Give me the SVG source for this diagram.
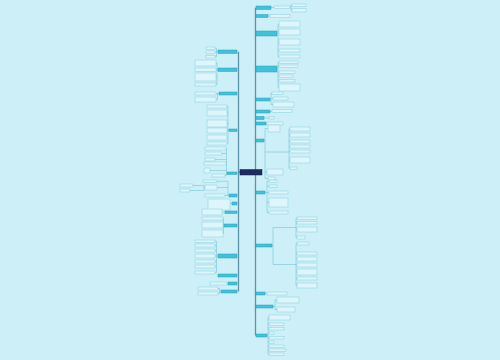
<svg xmlns="http://www.w3.org/2000/svg" width="500" height="360" viewBox="0 0 500 360">
<style>
.bg{fill:#cdf0f8}
.l1{fill:#40c2db;stroke:#2a9fba;stroke-width:0.5}
.l2{fill:#def6fb;stroke:#7fcadc;stroke-width:0.45}
.u{fill:none;stroke:#6fbccf;stroke-width:0.55}
.root{fill:#1c2b60;stroke:#0f1a44;stroke-width:0.5}
.c{fill:none;stroke:#72bfd2;stroke-width:0.55}
.sp{fill:none;stroke:#5f93a8;stroke-width:1.3}
</style>
<rect class="bg" x="0" y="0" width="500" height="360"/>
<g id="connectors">
<path class="sp" d="M255.5,7.75V335.5"/>
<path class="sp" d="M238.5,51.75V291.5M238.5,172H240"/>
<path class="c" d="M271,7.5H274M290,7.25H291M292,5.25H291V10.25H292"/>
<path class="c" d="M268,16H270"/>
<path class="c" d="M277,33.5H278M279,24H278V56.5H279M278,32H279M278,42H279M278,50.5H279"/>
<path class="c" d="M277,69H278M279,62.25H278V87.5H279M278,66.25H279M278,72.25H279M278,76.25H279M278,80.75H279"/>
<path class="c" d="M270,99.5H271M272,93.25H271V104.5H273M271,98.5H273"/>
<path class="c" d="M270,111.5H272"/>
<path class="c" d="M264,118H269"/>
<path class="c" d="M266,123.5H267"/>
<path class="c" d="M264,140.5H265M268,128.5H265V178.5H268M265,152H266M265,172H267"/>
<path class="c" d="M288,152H289M290,129H289V168.25H290M289,135H290M289,141.5H290M289,146.5H290M289,151.5H290M289,160H290"/>
<path class="c" d="M265,192.5H267M269,181.25H267V212.5H269M267,186.25H269M267,192.5H269M267,202.5H269"/>
<path class="c" d="M272,245.5H273M274,227.5H273V264.5H274"/>
<path class="c" d="M294,227.5H296M297,218.25H296V237.5H297M296,222.75H297M296,229.5H297"/>
<path class="c" d="M295,264.5H296M297,243.5H296V285.5H297M296,253.5H297M296,259H297M296,265H297M296,272H297M296,278.5H297"/>
<path class="c" d="M265,293.5H267"/>
<path class="c" d="M273,306.5H275M277,300H275V309.5H277"/>
<path class="c" d="M267,335.5H268M269,317.5H268V354.25H269M268,324.25H269M268,328.75H269M268,333.25H269M268,337.75H269M268,342.25H269M268,346.25H269M268,350.25H269"/>
<path class="c" d="M218,51.75H216.5M215,48.25H216.5V56.75H215M216.5,52.25H215"/>
<path class="c" d="M218,69.75H217M216,63H217V84.5H216M217,69.75H216M217,77H216"/>
<path class="c" d="M219,93.5H217.5M216,93.5H217.5V99.5H216"/>
<path class="c" d="M229,130.25H228M227,106.5H228V143.5H227M228,113H227M228,123.5H227M228,130.5H227M228,137.5H227"/>
<path class="c" d="M227,173.25H226.5M226,148.5H226.5V175.5H225M226.5,153.5H222M226.5,159.5H215M226.5,163.5H226M226.5,170.5H210"/>
<path class="c" d="M229,195.5H228M217,181.25H228V195.5H225M228,187.5H217"/>
<path class="c" d="M205,187.5H204M193,185.5H204V190.5H190"/>
<path class="c" d="M232,203.5H230"/>
<path class="c" d="M225,212.25H222"/>
<path class="c" d="M224,225.5H223.5M223,218.5H223.5V233.5H223M223.5,225H223"/>
<path class="c" d="M218,256H216.5M215,241.25H216.5V272.5H215M216.5,245.5H215M216.5,250.5H215M216.5,256H215M216.5,261.5H215M216.5,266.5H215"/>
<path class="c" d="M228,283.5H227"/>
<path class="c" d="M221,291.5H219.5M218,288.5H219.5V293.5H218"/>
</g>
<g id="root"><rect class="root" x="240" y="169.5" width="22" height="5.5"/></g>
<g id="r1"><rect class="l1" x="256" y="6" width="15" height="3.5"/></g>
<g id="r1a"><rect class="l2" x="274" y="6" width="16" height="2.5"/></g>
<g id="r1a1"><rect class="l2" x="292" y="4" width="14" height="2.5"/></g>
<g id="r1a2"><rect class="l2" x="292" y="8.5" width="14" height="3.5"/></g>
<g id="r2"><rect class="l1" x="256" y="14.5" width="12" height="3"/></g>
<g id="r2a"><rect class="l2" x="270" y="14.5" width="20" height="3"/></g>
<g id="r3"><rect class="l1" x="256" y="31" width="21" height="5"/></g>
<g id="r3a"><rect class="l2" x="279" y="21" width="21" height="6"/></g>
<g id="r3b"><rect class="l2" x="279" y="29" width="21" height="6"/></g>
<g id="r3c"><rect class="l2" x="279" y="39" width="21" height="6"/></g>
<g id="r3d"><rect class="l2" x="279" y="49" width="21" height="3"/></g>
<g id="r3e"><rect class="l2" x="279" y="55" width="21" height="3"/></g>
<g id="r4"><rect class="l1" x="256" y="66" width="21" height="6"/></g>
<g id="r4a"><rect class="l2" x="279" y="61" width="19" height="2.5"/></g>
<g id="r4b"><rect class="l2" x="279" y="65" width="19" height="2.5"/></g>
<g id="r4c"><rect class="l2" x="279" y="71" width="16" height="2.5"/></g>
<g id="r4d"><rect class="l2" x="279" y="75" width="14" height="2.5"/></g>
<g id="r4e"><rect class="l2" x="279" y="79.5" width="16" height="2.5"/></g>
<g id="r4f"><rect class="l2" x="279" y="84" width="21" height="7"/></g>
<g id="r5"><rect class="l1" x="256" y="98" width="14" height="3"/></g>
<g id="r5a"><rect class="l2" x="272" y="92" width="11" height="2.5"/></g>
<g id="r5b"><rect class="l2" x="273" y="97" width="15" height="3"/></g>
<g id="r5c"><rect class="l2" x="273" y="102" width="21" height="5"/></g>
<g id="r6"><rect class="l1" x="256" y="110" width="14" height="3"/></g>
<g id="r6a"><rect class="l2" x="272" y="109.5" width="20" height="3"/></g>
<g id="r7"><rect class="l1" x="256" y="116.5" width="8" height="3"/></g>
<g id="r7a"><rect class="l2" x="269" y="116.5" width="5" height="2.5"/></g>
<g id="r8"><rect class="l1" x="256" y="122" width="10" height="3"/></g>
<g id="r8a"><rect class="l2" x="267" y="122" width="16" height="3"/></g>
<g id="r9"><rect class="l1" x="256" y="139" width="8" height="3"/></g>
<g id="r9a"><rect class="l2" x="268" y="125" width="12" height="7"/></g>
<g id="r9b"><path class="u" d="M266,152H288"/></g>
<g id="r9b1"><rect class="l2" x="290" y="127" width="20" height="4"/></g>
<g id="r9b2"><rect class="l2" x="290" y="133" width="20" height="4"/></g>
<g id="r9b3"><rect class="l2" x="290" y="140" width="20" height="3"/></g>
<g id="r9b4"><rect class="l2" x="290" y="145" width="20" height="3"/></g>
<g id="r9b5"><rect class="l2" x="290" y="150" width="20" height="3"/></g>
<g id="r9b6"><rect class="l2" x="290" y="157" width="20" height="6"/></g>
<g id="r9b7"><rect class="l2" x="290" y="167" width="7" height="2.5"/></g>
<g id="r9c"><rect class="l2" x="267" y="169" width="16" height="6"/></g>
<g id="r9d"><rect class="l2" x="268" y="177" width="7" height="3"/></g>
<g id="r10"><rect class="l1" x="256" y="191" width="9" height="3"/></g>
<g id="r10a"><rect class="l2" x="269" y="180" width="8" height="2.5"/></g>
<g id="r10b"><rect class="l2" x="269" y="185" width="8" height="2.5"/></g>
<g id="r10c"><rect class="l2" x="269" y="191" width="19" height="3"/></g>
<g id="r10d"><rect class="l2" x="269" y="198" width="19" height="9"/></g>
<g id="r10e"><rect class="l2" x="269" y="211" width="19" height="3"/></g>
<g id="r11"><rect class="l1" x="256" y="244" width="16" height="3"/></g>
<g id="r11a"><path class="u" d="M274,227.5H294"/></g>
<g id="r11a1"><rect class="l2" x="297" y="217" width="20" height="2.5"/></g>
<g id="r11a2"><rect class="l2" x="297" y="221.5" width="20" height="2.5"/></g>
<g id="r11a3"><rect class="l2" x="297" y="227" width="20" height="5"/></g>
<g id="r11a4"><rect class="l2" x="297" y="236" width="8" height="3"/></g>
<g id="r11b"><path class="u" d="M274,264.5H295"/></g>
<g id="r11b1"><rect class="l2" x="297" y="242" width="12" height="3"/></g>
<g id="r11b2"><rect class="l2" x="297" y="252" width="20" height="3"/></g>
<g id="r11b3"><rect class="l2" x="297" y="257" width="20" height="4"/></g>
<g id="r11b4"><rect class="l2" x="297" y="263" width="20" height="4"/></g>
<g id="r11b5"><rect class="l2" x="297" y="269" width="20" height="6"/></g>
<g id="r11b6"><rect class="l2" x="297" y="277" width="20" height="3"/></g>
<g id="r11b7"><rect class="l2" x="297" y="283" width="20" height="5"/></g>
<g id="r12"><rect class="l1" x="256" y="292" width="9" height="3"/></g>
<g id="r12a"><rect class="l2" x="267" y="292" width="20" height="3"/></g>
<g id="r13"><rect class="l1" x="256" y="305" width="17" height="3"/></g>
<g id="r13a"><rect class="l2" x="277" y="297" width="22" height="6"/></g>
<g id="r13b"><rect class="l2" x="277" y="307" width="18" height="5"/></g>
<g id="r14"><rect class="l1" x="256" y="334" width="11" height="3"/></g>
<g id="r14a"><rect class="l2" x="269" y="315" width="21" height="5"/></g>
<g id="r14b"><rect class="l2" x="269" y="323" width="15" height="2.5"/></g>
<g id="r14c"><rect class="l2" x="269" y="327.5" width="15" height="2.5"/></g>
<g id="r14d"><rect class="l2" x="269" y="332" width="5" height="2.5"/></g>
<g id="r14e"><rect class="l2" x="269" y="336.5" width="15" height="2.5"/></g>
<g id="r14f"><rect class="l2" x="269" y="341" width="5" height="2.5"/></g>
<g id="r14g"><rect class="l2" x="269" y="345" width="15" height="2.5"/></g>
<g id="r14h"><rect class="l2" x="269" y="349" width="17" height="2.5"/></g>
<g id="r14i"><rect class="l2" x="269" y="353" width="15" height="2.5"/></g>
<g id="l1"><rect class="l1" x="218" y="50" width="19" height="3.5"/></g>
<g id="l1a"><rect class="l2" x="206" y="47" width="9" height="2.5"/></g>
<g id="l1b"><rect class="l2" x="206" y="51" width="9" height="2.5"/></g>
<g id="l1c"><rect class="l2" x="206" y="55.5" width="9" height="2.5"/></g>
<g id="l2"><rect class="l1" x="218" y="68" width="19" height="3.5"/></g>
<g id="l2a"><rect class="l2" x="195" y="60" width="21" height="6"/></g>
<g id="l2b"><rect class="l2" x="195" y="68" width="21" height="3.5"/></g>
<g id="l2c"><rect class="l2" x="195" y="73" width="21" height="8"/></g>
<g id="l2d"><rect class="l2" x="195" y="83" width="21" height="3"/></g>
<g id="l3"><rect class="l1" x="219" y="92" width="18" height="3"/></g>
<g id="l3a"><rect class="l2" x="195" y="92" width="21" height="3"/></g>
<g id="l3b"><rect class="l2" x="195" y="97" width="21" height="5"/></g>
<g id="l4"><rect class="l1" x="229" y="129" width="8" height="2.5"/></g>
<g id="l4a"><rect class="l2" x="207" y="105" width="20" height="3"/></g>
<g id="l4b"><rect class="l2" x="207" y="110" width="20" height="6"/></g>
<g id="l4c"><rect class="l2" x="207" y="120" width="20" height="7"/></g>
<g id="l4d"><rect class="l2" x="207" y="128" width="20" height="5"/></g>
<g id="l4e"><rect class="l2" x="207" y="135" width="20" height="5"/></g>
<g id="l4f"><rect class="l2" x="207" y="142" width="20" height="3"/></g>
<g id="l5"><rect class="l1" x="227" y="172" width="10" height="2.5"/></g>
<g id="l5a"><rect class="l2" x="205" y="147" width="21" height="3"/></g>
<g id="l5b"><rect class="l2" x="205" y="152" width="17" height="3"/></g>
<g id="l5c"><rect class="l2" x="205" y="158" width="10" height="3"/></g>
<g id="l5d"><rect class="l2" x="204" y="162" width="22" height="3"/></g>
<g id="l5e"><rect class="l2" x="204" y="168" width="6" height="5"/></g>
<g id="l5f"><rect class="l2" x="212" y="174" width="13" height="3"/></g>
<g id="l6"><rect class="l1" x="229" y="194" width="8" height="3"/></g>
<g id="l6a"><rect class="l2" x="203" y="180" width="14" height="2.5"/></g>
<g id="l6b"><rect class="l2" x="205" y="185" width="12" height="5"/></g>
<g id="l6b1"><rect class="l2" x="180" y="184" width="13" height="3"/></g>
<g id="l6b2"><rect class="l2" x="180" y="189" width="10" height="3"/></g>
<g id="l6c"><rect class="l2" x="205" y="194" width="20" height="3"/></g>
<g id="l7"><rect class="l1" x="232" y="202" width="5" height="3"/></g>
<g id="l7a"><rect class="l2" x="208" y="199" width="22" height="11"/></g>
<g id="l8"><rect class="l1" x="225" y="211" width="12" height="2.5"/></g>
<g id="l8a"><rect class="l2" x="202" y="209" width="20" height="6"/></g>
<g id="l9"><rect class="l1" x="224" y="224" width="13" height="3"/></g>
<g id="l9a"><rect class="l2" x="202" y="217" width="21" height="3"/></g>
<g id="l9b"><rect class="l2" x="202" y="222" width="21" height="6"/></g>
<g id="l9c"><rect class="l2" x="202" y="230" width="21" height="7"/></g>
<g id="l10"><rect class="l1" x="218" y="254" width="19" height="4"/></g>
<g id="l10a"><rect class="l2" x="195" y="240" width="20" height="2.5"/></g>
<g id="l10b"><rect class="l2" x="195" y="244" width="20" height="3"/></g>
<g id="l10c"><rect class="l2" x="195" y="249" width="20" height="3"/></g>
<g id="l10d"><rect class="l2" x="195" y="254" width="20" height="4"/></g>
<g id="l10e"><rect class="l2" x="195" y="260" width="20" height="3"/></g>
<g id="l10f"><rect class="l2" x="195" y="265" width="20" height="3"/></g>
<g id="l10g"><rect class="l2" x="195" y="271" width="20" height="3"/></g>
<g id="l11"><rect class="l1" x="218" y="274" width="19" height="3"/></g>
<g id="l12"><rect class="l1" x="228" y="282" width="9" height="3"/></g>
<g id="l12a"><rect class="l2" x="210" y="282" width="17" height="3"/></g>
<g id="l13"><rect class="l1" x="221" y="290" width="16" height="3"/></g>
<g id="l13a"><rect class="l2" x="198" y="287" width="20" height="3"/></g>
<g id="l13b"><rect class="l2" x="198" y="292" width="20" height="3"/></g>
</svg>
